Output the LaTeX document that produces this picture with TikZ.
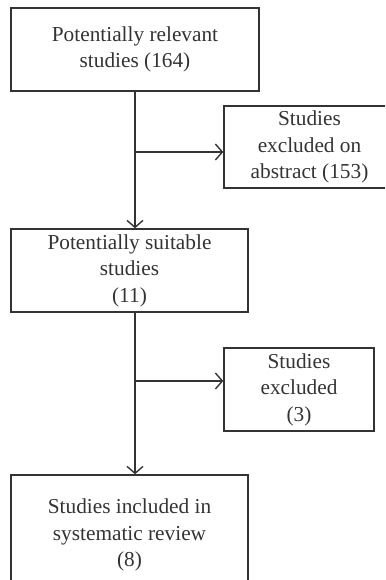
\documentclass[tikz,border=0pt]{standalone}
\usepackage{fontspec}
\setmainfont{Liberation Serif}
\usetikzlibrary{arrows.meta}
\definecolor{ink}{HTML}{333333}
\tikzset{
  box/.style={draw=ink, line width=1.4pt, rectangle, align=center, text=ink,
    inner sep=0pt, font=\fontsize{21.3}{26.5}\selectfont},
  flow/.style={draw=ink, line width=1.4pt, -{Straight Barb[length=7pt,width=16pt,line width=1.4pt]}}
}
\begin{document}
\begin{tikzpicture}[x=1pt,y=-1pt]
\useasboundingbox (0,0) rectangle (385,580);
\clip (0,0) rectangle (385,580);
\node[box, minimum width=248pt, minimum height=83pt] (b1) at (135,49.5) {Potentially relevant\\studies (164)};
\node[box, minimum width=171pt, minimum height=82pt] (b2) at (309.5,147) {Studies\\excluded on\\abstract (153)};
\node[box, minimum width=237pt, minimum height=83pt] (b3) at (129.5,270.5) {Potentially suitable\\studies\\(11)};
\node[box, minimum width=150pt, minimum height=83pt] (b4) at (299,389.5) {Studies\\excluded\\(3)};
\node[box, minimum width=237pt, minimum height=120pt] (b5) at (129.5,535) {Studies included in\\systematic review\\(8)};
\coordinate (j1) at (135,152);
\coordinate (j2) at (135,381);
\draw[flow] (b1.south -| j1) -- (b3.north -| j1);
\draw[flow] (j1) -- (j1 -| b2.west);
\draw[flow] (b3.south -| j2) -- (b5.north -| j2);
\draw[flow] (j2) -- (j2 -| b4.west);
\end{tikzpicture}
\end{document}
